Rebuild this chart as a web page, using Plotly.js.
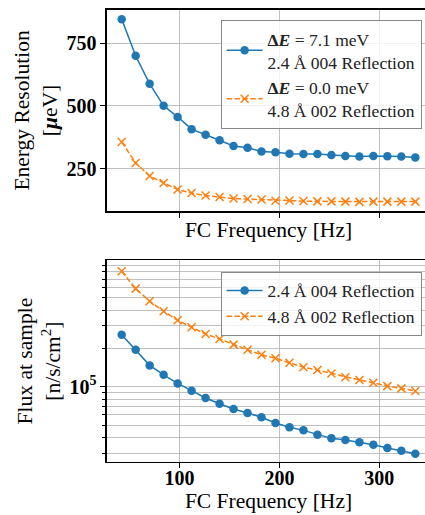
<!DOCTYPE html>
<html><head><meta charset="utf-8">
<script src="https://cdn.plot.ly/plotly-3.0.1.min.js"></script>
<style>html,body{margin:0;padding:0;overflow:hidden;background:#fff}</style>
</head><body><div id="chart" style="width:440px;height:515px"></div>
<script>
// FC frequencies [Hz]
const freq = [42, 56, 70, 84, 98, 112, 126, 140, 154, 168, 182, 196, 210, 224, 238, 252, 266, 280, 294, 308, 322, 336];
// Energy resolution [µeV]
const resA = [846, 700, 588, 500, 456, 407, 385, 363, 340, 333, 318, 315, 309, 308, 308, 304, 300, 298, 300, 299, 298, 294];
const resB = [356, 272, 220, 192, 166, 152, 142, 136, 130, 128, 126, 121, 122, 120, 119, 119, 118, 117, 118, 118, 118, 118];
// Flux at sample [n/s/cm^2]
const fluxA = [2.56e5, 1.95e5, 1.47e5, 1.24e5, 1.06e5, 9.3e4, 8.15e4, 7.35e4, 6.68e4, 6.21e4, 5.75e4, 5.19e4, 4.80e4, 4.54e4, 4.20e4, 3.93e4, 3.81e4, 3.66e4, 3.50e4, 3.30e4, 3.14e4, 2.98e4];
const fluxB = [8.06e5, 5.89e5, 4.69e5, 3.91e5, 3.32e5, 2.93e5, 2.59e5, 2.37e5, 2.14e5, 1.95e5, 1.78e5, 1.67e5, 1.54e5, 1.42e5, 1.35e5, 1.27e5, 1.185e5, 1.13e5, 1.075e5, 1.01e5, 9.7e4, 9.25e4];
// Labels
const nameResA = '<b>Δ<i>E</i></b> = 7.1 meV<br>2.4 Å 004 Reflection';
const nameResB = '<b>Δ<i>E</i></b> = 0.0 meV<br>4.8 Å 002 Reflection';
const nameFluxA = '2.4 Å 004 Reflection';
const nameFluxB = '4.8 Å 002 Reflection';
const xTicks = [100, 200, 300];
const resTicks = [250, 500, 750];
const fluxMajor = [1e5];
const fluxMajorText = ['<b>10<sup>5</sup></b>'];
const fluxMinor = [3e4, 4e4, 5e4, 6e4, 7e4, 8e4, 9e4, 2e5, 3e5, 4e5, 5e5, 6e5, 7e5, 8e5, 9e5];

const blue = '#1f77b4', orange = '#ff7f0e';
const FONT = 'Liberation Serif';
const grid = '#b0b0b0';

const traces = [
  {x: freq, y: resA, name: nameResA, xaxis: 'x', yaxis: 'y', mode: 'lines+markers', legend: 'legend',
   line: {color: blue, width: 1.5}, marker: {symbol: 'circle', size: 8.5, color: blue}},
  {x: freq, y: resB, name: nameResB, xaxis: 'x', yaxis: 'y', mode: 'lines+markers', legend: 'legend',
   line: {color: orange, width: 1.5, dash: '5.5px,2.4px'}, marker: {symbol: 'x-thin', size: 8, line: {color: orange, width: 1.5}, color: orange}},
  {x: freq, y: fluxA, name: nameFluxA, xaxis: 'x2', yaxis: 'y2', mode: 'lines+markers', legend: 'legend2',
   line: {color: blue, width: 1.5}, marker: {symbol: 'circle', size: 8.5, color: blue}},
  {x: freq, y: fluxB, name: nameFluxB, xaxis: 'x2', yaxis: 'y2', mode: 'lines+markers', legend: 'legend2',
   line: {color: orange, width: 1.5, dash: '5.5px,2.4px'}, marker: {symbol: 'x-thin', size: 8, line: {color: orange, width: 1.5}, color: orange}}
];

const axisCommon = {
  showline: true, linecolor: '#000', linewidth: 1.6, mirror: true,
  ticks: 'outside', ticklen: 5, tickwidth: 1.2, tickcolor: '#000',
  showgrid: true, gridcolor: grid, gridwidth: 0.8, zeroline: false,
  tickfont: {family: FONT, size: 20, color: '#000'}
};

const layout = {
  width: 440, height: 515,
  margin: {l: 107, r: 10, t: 0, b: 0},
  paper_bgcolor: '#fff', plot_bgcolor: '#fff',
  font: {family: FONT, color: '#000'},
  showlegend: true,
  xaxis: Object.assign({}, axisCommon, {
    anchor: 'y', domain: [0, 1], range: [27.3, 350.7], tickmode: 'array', tickvals: xTicks, showticklabels: false,
    title: {text: 'FC Frequency [Hz]', font: {family: FONT, size: 21.5}, standoff: 5}
  }),
  yaxis: Object.assign({}, axisCommon, {
    anchor: 'x', domain: [0.5903, 0.9806], range: [80.5, 882.5], tickmode: 'array', tickvals: resTicks,
    ticktext: resTicks.map(v => '<b>' + v + '</b>'),
    title: {text: 'Energy Resolution<br>[<b><i>μ</i></b>eV]', font: {family: FONT, size: 21.5}, standoff: 3}
  }),
  xaxis2: Object.assign({}, axisCommon, {
    anchor: 'y2', domain: [0, 1], range: [27.3, 350.7], tickmode: 'array', tickvals: xTicks,
    ticktext: xTicks.map(v => '<b>' + v + '</b>'), ticklabelstandoff: -7,
    title: {text: 'FC Frequency [Hz]', font: {family: FONT, size: 21.5}, standoff: 4}
  }),
  yaxis2: Object.assign({}, axisCommon, {
    anchor: 'x2', domain: [0.1035, 0.4942], type: 'log', range: [4.411, 5.991],
    tickmode: 'array', tickvals: fluxMajor, ticktext: fluxMajorText,
    minor: {tickmode: 'array', tickvals: fluxMinor, ticks: 'outside', ticklen: 3, tickwidth: 1, tickcolor: '#000',
            showgrid: true, gridcolor: grid, gridwidth: 0.8},
    title: {text: 'Flux at sample<br>[n/s/cm<sup>2</sup>]', font: {family: FONT, size: 21.5}, standoff: 3}
  }),
  legend: {x: 0.974, xanchor: 'right', y: 0.961, yanchor: 'top', bgcolor: 'rgba(255,255,255,0.8)', itemwidth: 36,
           bordercolor: '#888', borderwidth: 1, font: {family: FONT, size: 17.5, color: '#222'}},
  legend2: {x: 0.974, xanchor: 'right', y: 0.4724, yanchor: 'top', bgcolor: 'rgba(255,255,255,0.8)', itemwidth: 36,
           bordercolor: '#888', borderwidth: 1, font: {family: FONT, size: 17.5, color: '#222'}}
};

Plotly.newPlot('chart', traces, layout, {displayModeBar: false, staticPlot: true});
</script></body></html>
